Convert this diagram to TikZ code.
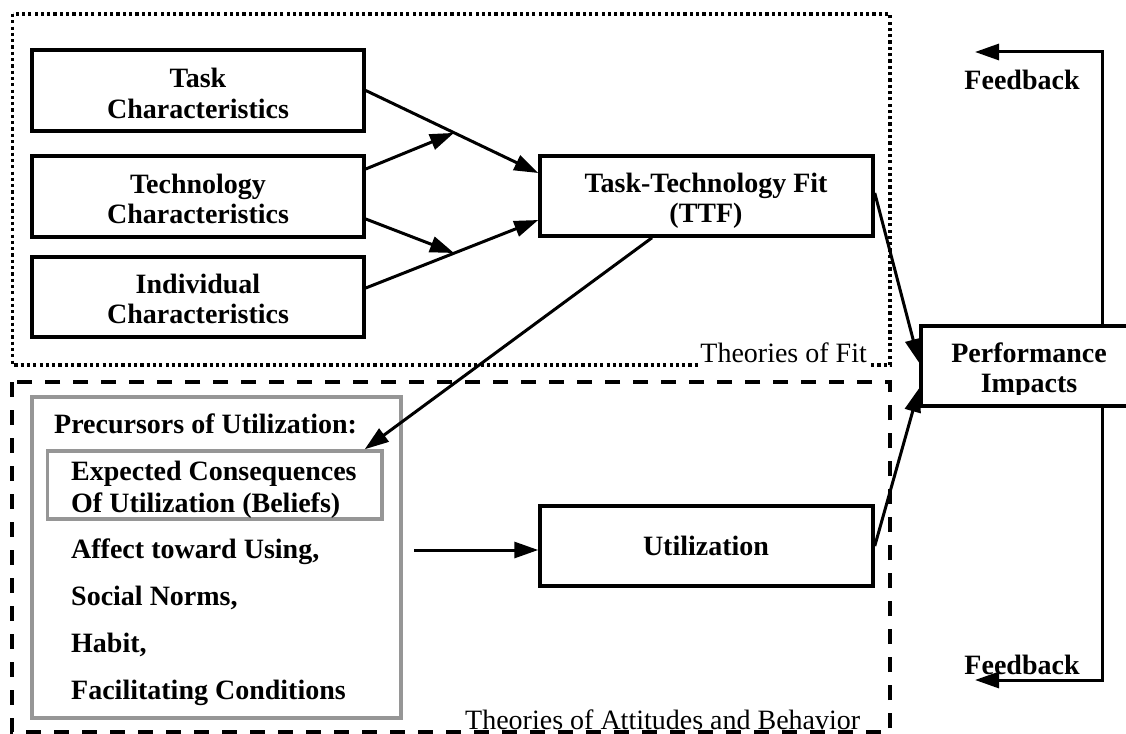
\documentclass[tikz,border=0pt]{standalone}
\usepackage{fontspec}
\setmainfont{Liberation Serif}
\usetikzlibrary{arrows.meta}
\definecolor{framegray}{RGB}{150,150,150}
\begin{document}
\begin{tikzpicture}[x=1pt,y=-1pt,
  box/.style={draw=black,line width=3.5pt,inner sep=0pt},
  graybox/.style={draw=framegray,line width=3.5pt,inner sep=0pt},
  lbl/.style={font=\fontsize{28}{31}\selectfont\bfseries,inner sep=0pt,anchor=base},
  plist/.style={lbl,anchor=base west},
  note/.style={font=\fontsize{28}{31}\selectfont,inner sep=0pt},
  arr/.style={line width=3pt,-{Triangle[length=24pt,width=16pt]}},
  fitframe/.style={line width=3.2pt,dash pattern=on 3.2pt off 3.1pt},
  attframe/.style={line width=4pt,dash pattern=on 15pt off 13pt}]

\path[use as bounding box] (0,0) rectangle (1126,733);
\clip (0,0) rectangle (1126,733);

% theory frames
\draw[fitframe] (12.5,14) rectangle (890,365);
\draw[attframe] (12,382) rectangle (890,732);
\node[note,anchor=base east,fill=white,inner xsep=2pt,text depth=5pt] (fitlbl) at (869,362) {Theories of Fit};
\node[note,anchor=base west] (attlbl) at (465,729) {Theories of Attitudes and Behavior};

% characteristic boxes
\node[box,minimum width=332pt,minimum height=81pt] (task) at (198,90.5) {};
\node[box,minimum width=332pt,minimum height=81pt] (tech) at (198,196.5) {};
\node[box,minimum width=332pt,minimum height=80pt] (indiv) at (198,297) {};
\node[lbl] (taskA) at (198,88) {Task};
\node[lbl] (taskB) at (198,118) {Characteristics};
\node[lbl] (techA) at (198,193) {Technology};
\node[lbl] (techB) at (198,223) {Characteristics};
\node[lbl] (indivA) at (198,293) {Individual};
\node[lbl] (indivB) at (198,323) {Characteristics};

% task-technology fit
\node[box,minimum width=333pt,minimum height=80pt] (ttf) at (706.5,196) {};
\begin{scope}
  \clip (540,150) rectangle (873,227);
  \node[lbl] (ttfA) at (706,192) {Task-Technology Fit};
  \node[lbl] (ttfB) at (706,222) {(TTF)};
\end{scope}

% performance impacts
\node[box,minimum width=219pt,minimum height=80pt] (perf) at (1030.5,366) {};
\begin{scope}
  \clip (921,320) rectangle (1126,394);
  \node[lbl] (perfA) at (1029,362) {Performance};
  \node[lbl] (perfB) at (1029,392) {Impacts};
\end{scope}

% utilization
\node[box,minimum width=333pt,minimum height=80pt] (util) at (706.5,546) {};
\node[lbl] (utilA) at (706,555) {Utilization};

% precursors of utilization
\node[graybox,minimum width=369pt,minimum height=321pt] (prec) at (216.5,557.5) {};
\node[graybox,minimum width=334.5pt,minimum height=68pt] (beliefs) at (214.75,485) {};
\node[plist] (precA) at (54,433) {Precursors of Utilization:};
\node[plist] (precB) at (71,480) {Expected Consequences};
\node[plist] (precC) at (71,512) {Of Utilization (Beliefs)};
\node[plist] (precD) at (71,558) {Affect toward Using,};
\node[plist] (precE) at (71,605) {Social Norms,};
\node[plist] (precF) at (71,652) {Habit,};
\node[plist] (precG) at (71,699) {Facilitating Conditions};

% feedback labels
\node[lbl] (fbA) at (1022,90) {Feedback};
\node[lbl] (fbB) at (1022,674) {Feedback};

% connectors
\coordinate (j1) at (454,132.9);
\coordinate (j2) at (454,253);
\coordinate (src) at (414,550);
\coordinate (fbtop) at (1102,52);
\coordinate (fbtopend) at (975,52);
\coordinate (fbbot) at (1102,680);
\coordinate (fbbotend) at (975,680);

\draw[arr] (task.east) -- ([yshift=23pt]ttf.west);
\draw[arr] ([yshift=27.5pt]tech.east) -- (j1);
\draw[arr] ([yshift=-22.5pt]tech.east) -- (j2);
\draw[arr] ([yshift=9pt]indiv.east) -- ([yshift=-24pt]ttf.west);
\draw[arr] ([xshift=-54.5pt]ttf.south) -- ([xshift=-19pt]beliefs.north east);
\draw[arr] ([yshift=3pt]ttf.east) -- ([yshift=3pt]perf.west);
\draw[arr] (util.east) -- ([yshift=-22pt]perf.west);
\draw[arr] (src) -- ([yshift=-4pt]util.west);
\draw[arr] (perf.north -| fbtop) -- (fbtop) -- (fbtopend);
\draw[arr] (perf.south -| fbbot) -- (fbbot) -- (fbbotend);
\end{tikzpicture}
\end{document}
